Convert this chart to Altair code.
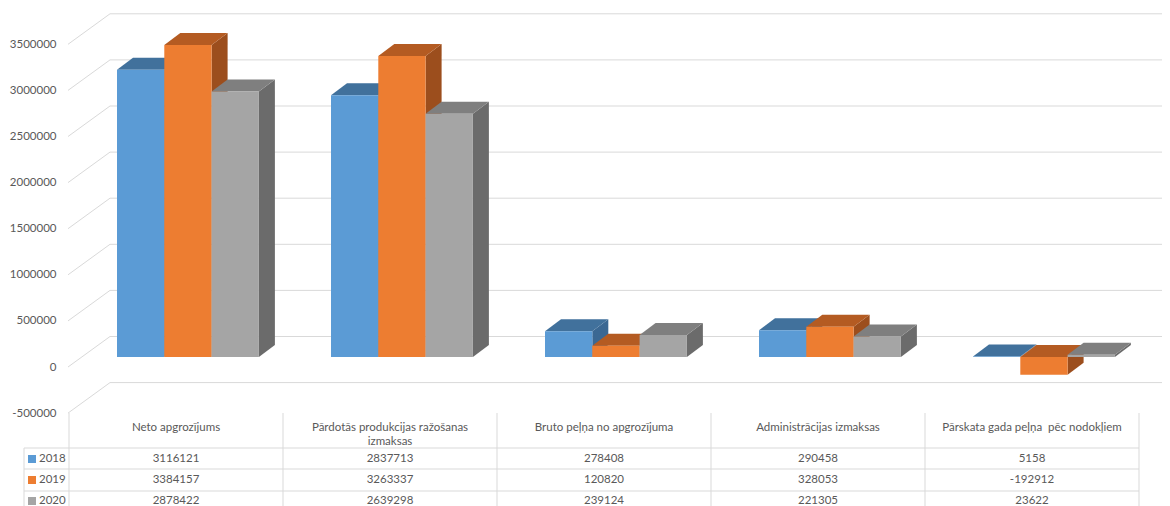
import altair as alt
import pandas as pd

# ---------------- data ----------------
categories = [
    "Neto apgrozījums",
    "Pārdotās produkcijas ražošanas izmaksas",
    "Bruto peļņa no apgrozījuma",
    "Administrācijas izmaksas",
    "Pārskata gada peļņa  pēc nodokļiem",
]
header_labels = [
    "Neto apgrozījums",
    "Pārdotās produkcijas ražošanas\nizmaksas",
    "Bruto peļņa no apgrozījuma",
    "Administrācijas izmaksas",
    "Pārskata gada peļņa \u00a0pēc nodokļiem",
]
years = ["2018", "2019", "2020"]
values_2018 = [3116121, 2837713, 278408, 290458, 5158]
values_2019 = [3384157, 3263337, 120820, 328053, -192912]
values_2020 = [2878422, 2639298, 239124, 221305, 23622]
series_values = [values_2018, values_2019, values_2020]
y_ticks = [-500000, 0, 500000, 1000000, 1500000, 2000000, 2500000, 3000000, 3500000]

# ---------------- style ----------------
front_colors = ["#5B9BD5", "#ED7D31", "#A5A5A5"]
top_colors = ["#41719C", "#B45B22", "#7F7F7F"]
side_colors = ["#3B6893", "#9C4E1D", "#6B6B6B"]
grid_color = "#D9D9D9"
text_color = "#595959"
FONT = "Lato"
FS = 11.5

# ---------------- layout ----------------
PX = 500000 / 46.1          # value units per pixel (vertical)
COL_PX = 214.0              # pixels per category column
PAD_LEFT = 61
PLOT_W = 1093
PLOT_H = 498
FRONT0 = 359                # px from plot top to the front zero line

Y_MAX = FRONT0 * PX
Y_MIN = -(PLOT_H - FRONT0) * PX
X_MIN = -0.5
X_MAX = X_MIN + PLOT_W / COL_PX


def px_x(p):
    return p / COL_PX


def below(p):
    return -p * PX


BAR_W = px_x(47.3)
GROUP_START = -px_x(59)
DEPTH_X = px_x(16)
DEPTH_Y = 12 * PX
BAR_LIFT = 10 * PX
WALL_X0 = X_MIN - px_x(1)
WALL_X1 = X_MIN + px_x(41)
WALL_LIFT = 30.5 * PX

xs = alt.Scale(domain=[X_MIN, X_MAX], nice=False, zero=False)
ys = alt.Scale(domain=[Y_MIN, Y_MAX], nice=False, zero=False)
yaxis = alt.Axis(
    values=y_ticks, labelExpr="'' + datum.value", domain=False, ticks=False,
    tickSize=0, grid=False, labelPadding=13, labelFont=FONT, labelFontSize=FS,
    labelColor=text_color, title=None,
)


def X(f):
    return alt.X(f"{f}:Q", scale=xs, axis=None)


def Y(f):
    return alt.Y(f"{f}:Q", scale=ys, axis=yaxis)


# ---------------- geometry tables ----------------
fronts, tops, sides = [], [], []
for i, cat in enumerate(categories):
    for j, yr in enumerate(years):
        v = series_values[j][i]
        x0 = i + GROUP_START + j * BAR_W
        x1 = x0 + BAR_W
        lo = min(v, 0) + BAR_LIFT
        hi = max(v, 0) + BAR_LIFT
        bid = f"{i}-{j}"
        fronts.append(dict(bar=bid, year=yr, x0=x0, x1=x1, lo=lo, hi=hi))
        for xx, a, b in [
            (x0, hi, hi),
            (x0 + DEPTH_X, hi, hi + DEPTH_Y),
            (x1, hi, hi + DEPTH_Y),
            (x1 + DEPTH_X, hi + DEPTH_Y, hi + DEPTH_Y),
        ]:
            tops.append(dict(bar=bid, year=yr, x=xx, a=a, b=b))
        for xx, a, b in [(x1, lo, hi), (x1 + DEPTH_X, lo + DEPTH_Y, hi + DEPTH_Y)]:
            sides.append(dict(bar=bid, year=yr, x=xx, a=a, b=b))

fronts = pd.DataFrame(fronts)
tops = pd.DataFrame(tops)
sides = pd.DataFrame(sides)

grid = pd.DataFrame({"v": y_ticks})
grid["back"] = grid["v"] + WALL_LIFT
grid["xa"] = WALL_X0
grid["xb"] = WALL_X1
grid["xe"] = X_MAX

diag = alt.Chart(grid).mark_rule(color=grid_color, strokeWidth=1).encode(
    x=X("xa"), x2="xb", y=Y("v"), y2="back")
back = alt.Chart(grid).mark_rule(color=grid_color, strokeWidth=1).encode(
    x=X("xb"), x2="xe", y=Y("back"), y2="back")

side_layer = alt.Chart(sides).mark_area(opacity=1).encode(
    x=X("x"), y=Y("a"), y2="b", detail="bar:N",
    color=alt.Color("year:N", scale=alt.Scale(domain=years, range=side_colors), legend=None))
top_layer = alt.Chart(tops).mark_area(opacity=1).encode(
    x=X("x"), y=Y("a"), y2="b", detail="bar:N",
    color=alt.Color("year:N", scale=alt.Scale(domain=years, range=top_colors), legend=None))
front_layer = alt.Chart(fronts).mark_rect().encode(
    x=X("x0"), x2="x1", y=Y("lo"), y2="hi",
    color=alt.Color("year:N", scale=alt.Scale(domain=years, range=front_colors), legend=None))

# ---------------- data table ----------------
HEADER_TOP = below(46)
row_lines = [below(81), below(102), below(124)]
row_text_y = [below(92), below(113), below(134)]
HEADER_Y = below(54.5)
LABEL_LEFT = X_MIN - px_x(45)

hlines = pd.DataFrame({"y": row_lines, "xa": LABEL_LEFT, "xb": X_MIN + len(categories)})
vlines = pd.DataFrame({
    "x": [X_MIN + k for k in range(len(categories) + 1)] + [LABEL_LEFT],
    "ya": [HEADER_TOP] * (len(categories) + 1) + [row_lines[0]],
    "yb": Y_MIN,
})
h_layer = alt.Chart(hlines).mark_rule(color=grid_color, strokeWidth=1).encode(
    x=X("xa"), x2="xb", y=Y("y"))
v_layer = alt.Chart(vlines).mark_rule(color=grid_color, strokeWidth=1).encode(
    x=X("x"), y=Y("ya"), y2="yb")

headers = pd.DataFrame({"x": list(range(len(categories))), "y": HEADER_Y, "label": header_labels})
header_layer = alt.Chart(headers).mark_text(
    font=FONT, fontSize=FS, color=text_color, align="center", baseline="top",
    lineBreak="\n", lineHeight=14).encode(x=X("x"), y=Y("y"), text="label:N")

cells = []
for j, yr in enumerate(years):
    for i in range(len(categories)):
        cells.append(dict(x=i, y=row_text_y[j], label=str(series_values[j][i])))
cells = pd.DataFrame(cells)
cell_layer = alt.Chart(cells).mark_text(
    font=FONT, fontSize=FS, color=text_color, align="center", baseline="middle").encode(
    x=X("x"), y=Y("y"), text="label:N")

rowlab = pd.DataFrame({"year": years, "y": row_text_y,
                       "xt": X_MIN - px_x(30), "xs": X_MIN - px_x(37)})
rowlab_layer = alt.Chart(rowlab).mark_text(
    font=FONT, fontSize=FS, color=text_color, align="left", baseline="middle").encode(
    x=X("xt"), y=Y("y"), text="year:N")
square_layer = alt.Chart(rowlab).mark_square(size=64, opacity=1).encode(
    x=X("xs"), y=Y("y"),
    color=alt.Color("year:N", scale=alt.Scale(domain=years, range=front_colors), legend=None))

chart = alt.layer(
    diag, back, side_layer, top_layer, front_layer,
    h_layer, v_layer, header_layer, cell_layer, rowlab_layer, square_layer,
).resolve_scale(color="independent").properties(
    width=PLOT_W, height=PLOT_H,
    padding={"left": PAD_LEFT, "top": 0, "right": 0, "bottom": 0},
    autosize=alt.AutoSizeParams(type="none"),
    background="white",
).configure_view(stroke=None)

chart.save("out.html", embed_options={"renderer": "svg", "actions": False})
